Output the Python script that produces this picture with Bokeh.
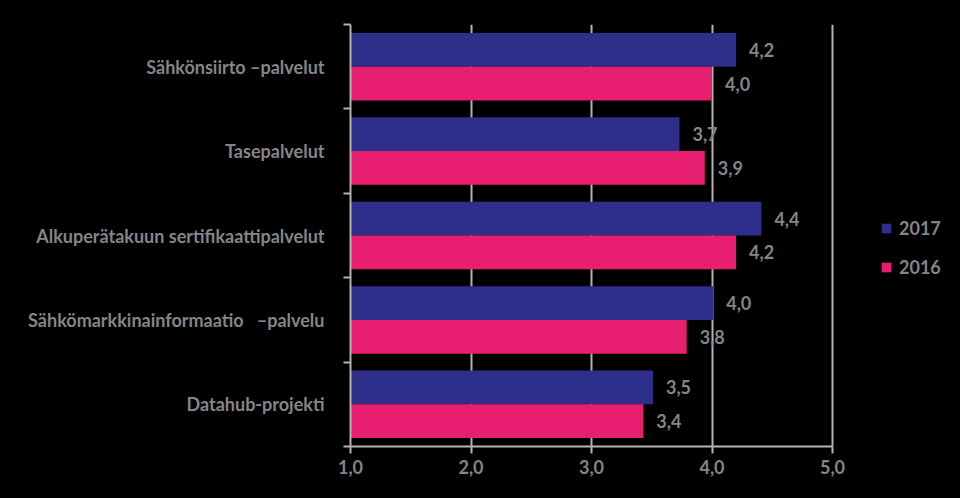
from bokeh.plotting import figure
from bokeh.models import (ColumnDataSource, FixedTicker, Range1d, Legend, LegendItem)
from bokeh.embed import file_html
from bokeh.resources import INLINE
from bokeh.core.properties import value

NB = "\u00a0"
categories = ["Sähkönsiirto –palvelut", "Tasepalvelut", "Alkuperätakuun sertifikaattipalvelut",
              "Sähkömarkkinainformaatio" + NB * 3 + "–palvelu", "Datahub-projekti"]
v2017 = [4.2, 3.73, 4.41, 4.01, 3.51]
v2016 = [4.0, 3.94, 4.2, 3.79, 3.43]
x_ticks = [1, 2, 3, 4, 5]
x_tick_labels = ["1,0", "2,0", "3,0", "4,0", "5,0"]

FONT = "Lato"
TXT = "#858585"
GRID = "#b4b4b4"
C2017 = "#2e2f8a"
C2016 = "#e81f70"

n = len(categories)
centers = [n - 0.5 - i for i in range(n)]
bounds = [float(i) for i in range(n + 1)]

def fmt(v):
    return f"{v:.1f}".replace(".", ",")

src17 = ColumnDataSource(dict(y=[c + 0.2 for c in centers], v=v2017, lab=[fmt(v) for v in v2017]))
src16 = ColumnDataSource(dict(y=[c - 0.2 for c in centers], v=v2016, lab=[fmt(v) for v in v2016]))

FW = 610
px_per_unit = 482 / 4.0
p = figure(width=960, height=498, frame_width=FW, frame_height=422,
           output_backend="svg", toolbar_location=None,
           x_range=Range1d(1, 1 + FW / px_per_unit), y_range=Range1d(0, n),
           min_border_left=350, min_border_right=0, min_border_top=24, min_border_bottom=52)
p.background_fill_color = "black"
p.border_fill_color = "black"
p.outline_line_color = None

r17 = p.hbar(y="y", left=1, right="v", height=0.4, source=src17, fill_color=C2017, line_color=None)
r16 = p.hbar(y="y", left=1, right="v", height=0.4, source=src16, fill_color=C2016, line_color=None)

for s in (src17, src16):
    p.text(x="v", y="y", text="lab", source=s, x_offset=13, text_baseline="middle",
           text_align="left", text_color=TXT, text_font=value(FONT), text_font_size="18px",
           text_font_style="bold")

# x axis
xa = p.xaxis[0]
xa.ticker = FixedTicker(ticks=x_ticks)
xa.bounds = (1, 5)
xa.major_label_overrides = {t: l for t, l in zip(x_ticks, x_tick_labels)}
xa.axis_line_color = GRID
xa.axis_line_width = 2
xa.major_tick_line_color = GRID
xa.major_tick_line_width = 2
xa.major_tick_in = 0
xa.major_tick_out = 7
xa.minor_tick_line_color = None
xa.major_label_standoff = 6
xa.major_label_text_color = TXT
xa.major_label_text_font = FONT
xa.major_label_text_font_size = "18px"
xa.major_label_text_font_style = "bold"

# y axis
ya = p.yaxis[0]
ya.ticker = FixedTicker(ticks=centers, minor_ticks=bounds)
ya.major_label_overrides = {c: cat for c, cat in zip(centers, categories)}
ya.axis_line_color = GRID
ya.axis_line_width = 2
ya.major_tick_line_color = None
ya.major_tick_in = 0
ya.major_tick_out = 0
ya.minor_tick_line_color = GRID
ya.minor_tick_line_width = 2
ya.minor_tick_in = 0
ya.minor_tick_out = 7
ya.major_label_standoff = 19
ya.major_label_text_color = TXT
ya.major_label_text_font = FONT
ya.major_label_text_font_size = "18px"
ya.major_label_text_font_style = "bold"

p.xgrid.ticker = FixedTicker(ticks=[2, 3, 4, 5])
p.xgrid.grid_line_color = GRID
p.xgrid.grid_line_width = 2
p.ygrid.grid_line_color = None

legend = Legend(items=[LegendItem(label="2017", renderers=[r17]),
                       LegendItem(label="2016", renderers=[r16])],
                location=(530, 168), orientation="vertical",
                background_fill_alpha=0, border_line_color=None,
                glyph_width=12, glyph_height=12, label_height=20, spacing=17,
                label_standoff=7, padding=0, margin=0,
                label_text_color=TXT, label_text_font=FONT, label_text_font_size="18px",
                label_text_font_style="bold")
p.add_layout(legend)

html = file_html(p, INLINE)
html = html.replace("<head>", "<head><style>body{background:#000;}</style>", 1)
open("out.html", "w").write(html)
